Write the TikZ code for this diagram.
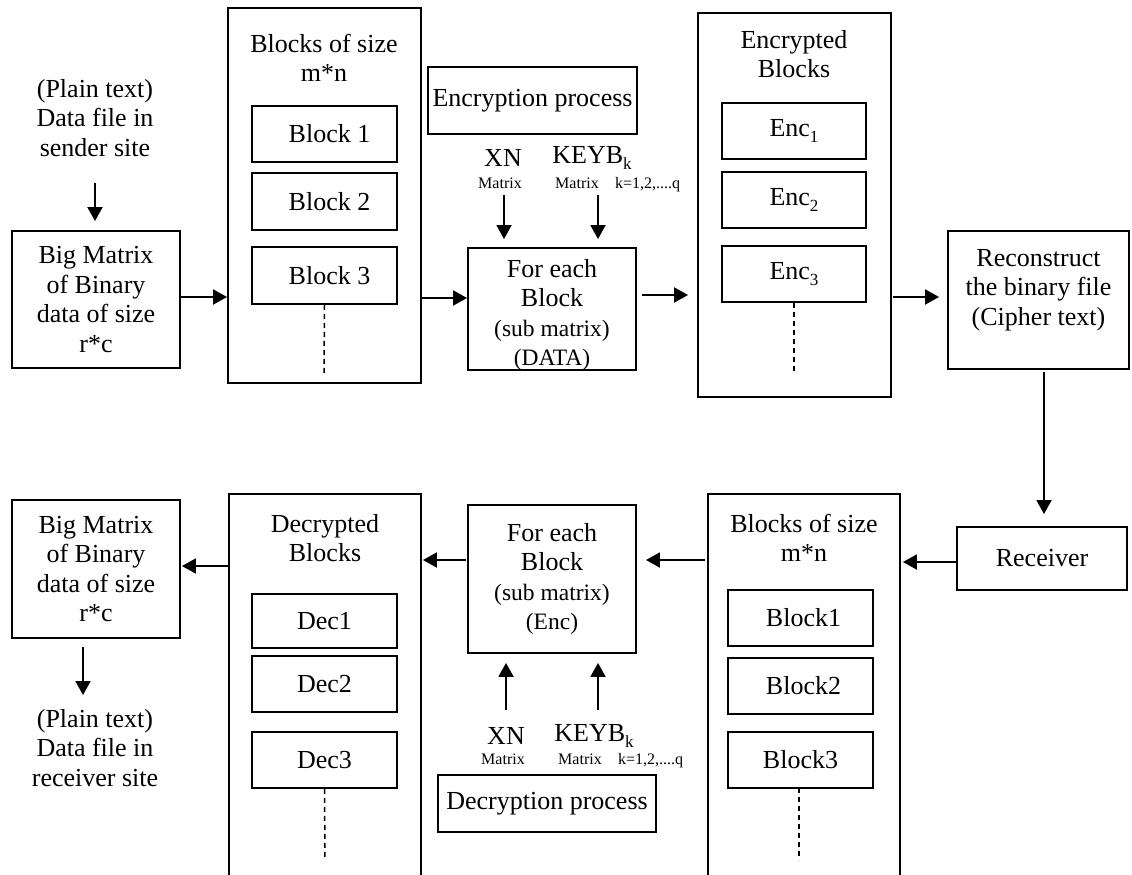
\documentclass[tikz,border=0pt]{standalone}
\usepackage{fontspec}
\setmainfont{Liberation Serif}
\usetikzlibrary{arrows.meta}
\newcommand{\fsn}{\fontsize{26}{29.5}\selectfont}
\newcommand{\fsm}{\fontsize{23.5}{29}\selectfont}
\newcommand{\fss}{\fontsize{16}{18}\selectfont}
\newcommand{\lowsub}[1]{\raisebox{-0.22em}{\fontsize{17}{17}\selectfont #1}}
\begin{document}
\begin{tikzpicture}[x=1pt,y=-1pt,
  box/.style={draw, line width=1.9pt, inner sep=0pt, align=center, font=\fsn},
  txt/.style={inner sep=0pt, align=center, font=\fsn},
  small/.style={inner sep=0pt, align=center, font=\fss},
  arr/.style={line width=1.9pt, -{Triangle[length=14pt,width=15pt]}},
  dashline/.style={line width=1.5pt, dash pattern=on 5pt off 4pt}]
\useasboundingbox (0,0) rectangle (1132,875);
\clip (0,0) rectangle (1132,875);

% ---------------- top row ----------------
\node[txt] (src) at (95,118) {(Plain text)\\Data file in\\sender site};
\node[box, minimum width=168pt, minimum height=137pt] (bm1) at (96,299.5) {Big Matrix\\of Binary\\data of size\\r*c};

\node[box, minimum width=193pt, minimum height=375pt] (col1) at (324.5,195.5) {};
\node[txt] (col1t) at (324,58) {Blocks of size\\m*n};
\node[box, minimum width=145pt, minimum height=56pt] (b1) at (324.5,134) {\hspace*{10pt}Block 1};
\node[box, minimum width=145pt, minimum height=57pt] (b2) at (324.5,201.5) {\hspace*{10pt}Block 2};
\node[box, minimum width=145pt, minimum height=57pt] (b3) at (324.5,275.5) {\hspace*{10pt}Block 3};
\coordinate (b3d) at (324,373);
\draw[dashline] (b3.south) -- (b3d);

\node[box, minimum width=209pt, minimum height=67pt] (encp) at (532.5,100.5) {Encryption process};
\node[txt] (xn1) at (503,158) {XN};
\node[small, anchor=base] (xn1m) at (500,188) {Matrix};
\node[txt] (kb1) at (592,158) {KEYB\lowsub{k}};
\node[small, anchor=base] (kb1m) at (577,188) {Matrix};
\node[small, anchor=base west] (kb1k) at (615,188) {k=1,2,....q};

\node[box, minimum width=168pt, minimum height=122pt] (fe1) at (552,309) {};
\node[txt] (fe1t) at (552,315) {For each\\Block\\{\fsm (sub matrix)}\\{\fsm (DATA)}};
\coordinate (x1s) at (504,195);
\coordinate (k1s) at (598,195);
\draw[arr, shorten >=8pt] (x1s) -- (x1s |- fe1.north);
\draw[arr, shorten >=8pt] (k1s) -- (k1s |- fe1.north);

\node[box, minimum width=193pt, minimum height=384pt] (col2) at (794.5,205) {};
\node[txt] (col2t) at (794,54) {Encrypted\\Blocks};
\node[box, minimum width=144pt, minimum height=56pt] (e1) at (794,131) {Enc\lowsub{1}};
\node[box, minimum width=144pt, minimum height=56pt] (e2) at (794,200) {Enc\lowsub{2}};
\node[box, minimum width=144pt, minimum height=56pt] (e3) at (794,274) {Enc\lowsub{3}};
\coordinate (e3d) at (794,373);
\draw[dashline] (e3.south) -- (e3d);

\node[box, minimum width=181pt, minimum height=138pt] (rec) at (1038.5,300) {};
\node[txt] (rect) at (1038.5,290) {Reconstruct\\the binary file\\(Cipher text)};

\node[box, minimum width=170pt, minimum height=63pt] (recv) at (1042,558.5) {Receiver};

% top arrows
\coordinate (a1s) at (95,183);
\draw[arr, shorten >=9pt] (a1s) -- (a1s |- bm1.north);
\coordinate (a2) at (181,297);
\draw[arr] (a2) -- (a2 -| col1.west);
\coordinate (a3) at (422,298);
\draw[arr] (a3) -- (a3 -| fe1.west);
\coordinate (a4) at (642,295);
\draw[arr, shorten >=9pt] (a4) -- (a4 -| col2.west);
\coordinate (a5) at (893,297);
\draw[arr, shorten >=8pt] (a5) -- (a5 -| rec.west);
\coordinate (a6) at (1044,372);
\draw[arr, shorten >=12pt] (a6) -- (a6 |- recv.north);

% ---------------- bottom row ----------------
\node[box, minimum width=192pt, minimum height=392pt] (col3) at (804,690) {};
\node[txt] (col3t) at (804,538) {Blocks of size\\m*n};
\node[box, minimum width=145pt, minimum height=56pt] (bb1) at (800.5,618) {\hspace*{6pt}Block1};
\node[box, minimum width=145pt, minimum height=56pt] (bb2) at (800.5,686) {\hspace*{6pt}Block2};
\node[box, minimum width=145pt, minimum height=56pt] (bb3) at (800.5,760) {Block3};
\coordinate (bb3d) at (799,860);
\draw[dashline] (799,788) -- (bb3d);

\node[box, minimum width=168pt, minimum height=148pt] (fe2) at (552,579) {For each\\Block\\{\fsm (sub matrix)}\\{\fsm (Enc)}};
\coordinate (x2s) at (506,710);
\coordinate (k2s) at (598,710);
\draw[arr, shorten >=9pt] (x2s) -- (x2s |- fe2.south);
\draw[arr, shorten >=9pt] (k2s) -- (k2s |- fe2.south);
\node[txt] (xn2) at (506,736) {XN};
\node[small, anchor=base] (xn2m) at (503,764) {Matrix};
\node[txt] (kb2) at (594,736) {KEYB\lowsub{k}};
\node[small, anchor=base] (kb2m) at (580,764) {Matrix};
\node[small, anchor=base west] (kb2k) at (618,764) {k=1,2,....q};
\node[box, minimum width=218pt, minimum height=57pt] (decp) at (547,803.5) {Decryption process};

\node[box, minimum width=192pt, minimum height=392pt] (col4) at (325,690) {};
\node[txt] (col4t) at (325,538) {Decrypted\\Blocks};
\node[box, minimum width=145pt, minimum height=54pt] (d1) at (324.5,621) {Dec1};
\node[box, minimum width=145pt, minimum height=56pt] (d2) at (324.5,684) {Dec2};
\node[box, minimum width=145pt, minimum height=56pt] (d3) at (324.5,760) {Dec3};
\coordinate (d3d) at (325,860);
\draw[dashline] (d3.south) -- (d3d);

\node[box, minimum width=168pt, minimum height=138pt] (bm2) at (96,569) {Big Matrix\\of Binary\\data of size\\r*c};
\node[txt] (dst) at (95,748) {(Plain text)\\Data file in\\receiver site};

% bottom arrows
\coordinate (c1) at (956,562);
\draw[arr, shorten >=2pt] (c1) -- (c1 -| col3.east);
\coordinate (c2) at (705,560);
\draw[arr, shorten >=9pt] (c2) -- (c2 -| fe2.east);
\coordinate (c3) at (466,560);
\draw[arr, shorten >=1pt] (c3) -- (c3 -| col4.east);
\coordinate (c4) at (228,566);
\draw[arr, shorten >=1pt] (c4) -- (c4 -| bm2.east);
\coordinate (c5) at (83,647);
\draw[arr] (c5) -- (83,695);
\end{tikzpicture}
\end{document}
